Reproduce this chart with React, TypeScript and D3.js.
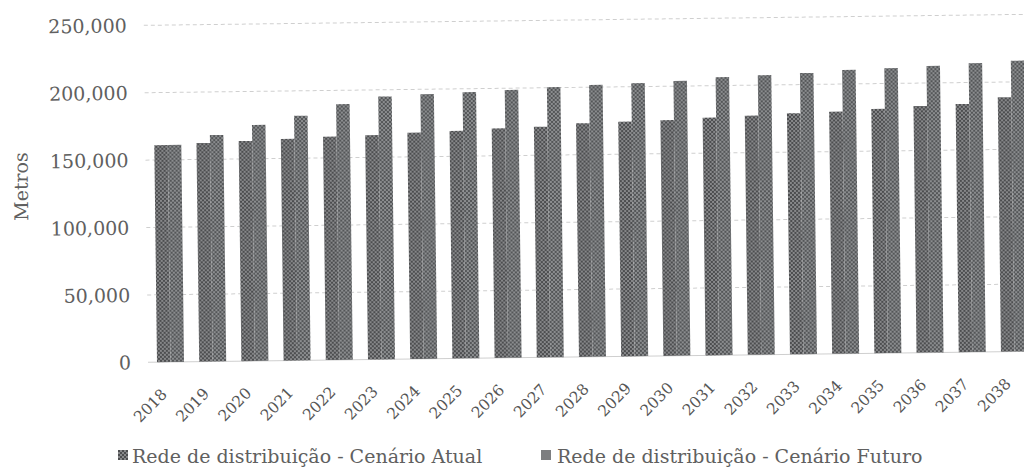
import React from 'react';
import * as d3 from 'd3';

const years = ['2018','2019','2020','2021','2022','2023','2024','2025','2026','2027','2028','2029','2030','2031','2032','2033','2034','2035','2036','2037','2038'];
const atual = [161000,162200,163300,164400,165700,166500,167900,168800,170300,171100,173300,174100,174900,176300,177400,178800,179600,181200,183000,184100,188700];
const futuro = [161000,168000,175100,181500,189700,195000,196400,197500,198700,200400,201700,202600,203900,206200,207300,208500,210500,211400,212700,214300,215700];
const yTicks = [0,50000,100000,150000,200000,250000];
const seriesNames = ['Rede de distribuição - Cenário Atual','Rede de distribuição - Cenário Futuro'];

export default function App() {
  const W = 1024, H = 467;
  const x = d3.scaleBand<string>().domain(years).range([149.4, 149.4 + 21 * 42.2]).paddingInner(0.36).paddingOuter(0.18);
  const y = d3.scaleLinear().domain([0, 250000]).range([362.3, 25.3]);
  const bw = x.bandwidth() / 2;
  const fmt = d3.format(',');
  const font = '"DejaVu Serif", serif';
  return (
    <svg width={W} height={H} style={{position:'absolute', left:0, top:0, background:'#fff'}}>
      <defs>
        <pattern id="pa" width="4" height="4" patternUnits="userSpaceOnUse">
          <rect width="4" height="4" fill="#87888a"/>
          <rect width="2" height="2" fill="#4c4d4f"/>
          <rect x="2" y="2" width="2" height="2" fill="#4c4d4f"/>
        </pattern>
        <pattern id="pf" width="4" height="4" patternUnits="userSpaceOnUse">
          <rect width="4" height="4" fill="#8b8d8f"/>
          <rect width="2" height="2" fill="#545658"/>
          <rect x="2" y="2" width="2" height="2" fill="#545658"/>
        </pattern>
      </defs>
      <rect width={W} height={H} fill="#fff"/>
      <g transform="rotate(-0.714,150,362)">
        {yTicks.map(t => (
          <g key={t}>
            <line x1={148} x2={1040} y1={y(t)} y2={y(t)} stroke="#cfcfcf" strokeWidth={1} strokeDasharray={t === 0 ? undefined : '4,3'}/>
            <text x={131} y={y(t)} dy="0.36em" textAnchor="end" fontFamily={font} fontSize={19} fill="#606060">{fmt(t)}</text>
          </g>
        ))}
        {years.map((yr, i) => (
          <g key={yr}>
            <rect x={x(yr)!} y={y(atual[i])} width={bw} height={y(0) - y(atual[i])} fill="url(#pa)"/>
            <rect x={x(yr)! + bw} y={y(futuro[i])} width={bw} height={y(0) - y(futuro[i])} fill="url(#pf)"/>
            <text transform={`translate(${x(yr)! + x.bandwidth() / 2 - 3},${y(0) + 33}) rotate(-45)`} textAnchor="end" fontFamily={font} fontSize={15.5} fill="#555">{yr}</text>
          </g>
        ))}
        <text transform={`translate(30,185) rotate(-90)`} textAnchor="middle" fontFamily={font} fontSize={19} fill="#606060">Metros</text>
      </g>
      <rect x={118} y={450} width={10} height={10} fill="url(#pa)"/>
      <text x={132} y={463} fontFamily={font} fontSize={19} fill="#606060">{seriesNames[0]}</text>
      <rect x={541} y={450} width={10} height={10} fill="#7d7e80"/>
      <text x={557} y={463} fontFamily={font} fontSize={19} fill="#606060">{seriesNames[1]}</text>
    </svg>
  );
}
